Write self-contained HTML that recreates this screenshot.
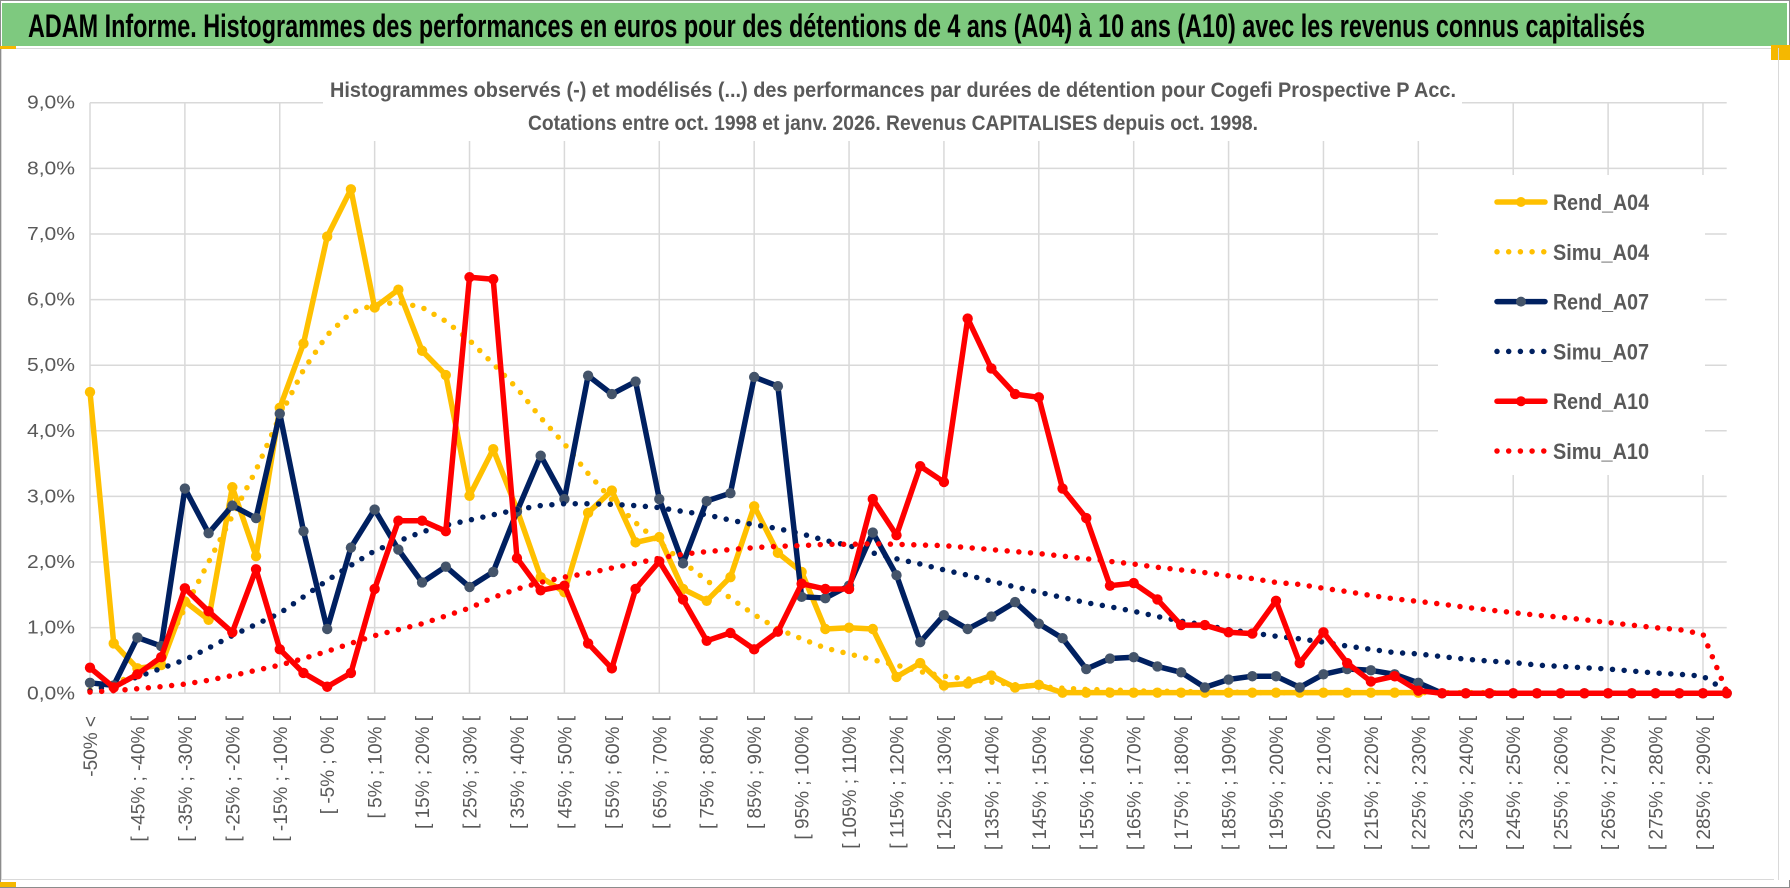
<!DOCTYPE html>
<html><head><meta charset="utf-8"><style>
html,body{margin:0;padding:0;background:#fff;}
svg{display:block;font-family:"Liberation Sans",sans-serif;}
</style></head><body>
<svg id="chart" width="1790" height="888" viewBox="0 0 1790 888">
  <rect x="0.5" y="0.5" width="1789" height="887" fill="#fff" stroke="#8c8c8c"/>
  <rect x="2" y="3" width="1785" height="43" fill="#7ec97f"/>
  <text x="28" y="37" font-size="32" font-weight="bold" fill="#000" textLength="1617" lengthAdjust="spacingAndGlyphs">ADAM Informe. Histogrammes des performances en euros pour des détentions de 4 ans (A04) à 10 ans (A10) avec les revenus connus capitalisés</text>
  <rect x="1.5" y="48.5" width="1776" height="831" fill="#fff" stroke="#d9d9d9"/>
  <rect x="0" y="46" width="16" height="3" fill="#f5b800"/>
  <rect x="0" y="882" width="16" height="5" fill="#f5b800"/>
  <rect x="1771" y="45" width="19" height="15" fill="#f5b800"/>
  <rect x="1774" y="60" width="16" height="820" fill="#fff"/>
  <line x1="1778.5" y1="48" x2="1778.5" y2="880" stroke="#d9d9d9"/>
  <g id="grid"></g>
  <rect x="323" y="60" width="1139" height="81" fill="#fff"/>
  <text x="893" y="97" font-size="21" font-weight="bold" fill="#595959" text-anchor="middle" textLength="1126" lengthAdjust="spacingAndGlyphs">Histogrammes observés (-) et modélisés (...) des performances par durées de détention pour Cogefi Prospective P Acc.</text>
  <text x="893" y="130" font-size="21" font-weight="bold" fill="#595959" text-anchor="middle" textLength="730" lengthAdjust="spacingAndGlyphs">Cotations entre oct. 1998 et janv. 2026. Revenus CAPITALISES depuis oct. 1998.</text>
  <rect x="1438" y="175" width="267" height="300" fill="#fff"/>
  <g id="yticks"></g>
  <g id="xticks"></g>
  <g id="series"></g>
  <g id="legend"></g>
</svg>
<script>
const yTicks = [0,1,2,3,4,5,6,7,8,9];
const yTickLabels = ["0,0%","1,0%","2,0%","3,0%","4,0%","5,0%","6,0%","7,0%","8,0%","9,0%"];
const seriesNames = ["Rend_A04","Simu_A04","Rend_A07","Simu_A07","Rend_A10","Simu_A10"];
const rendA04 = [4.59,0.76,0.38,0.43,1.4,1.12,3.14,2.09,4.35,5.33,
 6.96,7.68,5.88,6.15,5.22,4.85,3.01,3.72,2.8,1.77,
 1.54,2.75,3.09,2.3,2.38,1.59,1.41,1.77,2.85,2.14,
 1.85,0.98,1.0,0.98,0.25,0.46,0.12,0.15,0.27,0.09,
 0.13,0.01,0.01,0.01,0.01,0.01,0.01,0.01,0.01,0.01,
 0.01,0.01,0.01,0.01,0.01,0.01,0.01];
const simuA04 = [0.05,0.15,0.3,0.55,1.3,2.0,2.7,3.4,4.22,4.93,
 5.46,5.8,5.92,5.96,5.88,5.67,5.38,5.02,4.65,4.2,
 3.8,3.35,2.95,2.6,2.3,2.0,1.72,1.45,1.2,0.98,
 0.83,0.69,0.6,0.51,0.43,0.33,0.26,0.22,0.17,0.13,
 0.1,0.08,0.06,0.05,0.04,0.03,0.03,0.02,0.02,0.01,
 0.01,0.01,0.01,0.01,0.01,0.01,0.01,0.01,0.01,0.01,
 0,0,0,0,0,0,0,0,0,0];
const rendA07 = [0.16,0.12,0.85,0.72,3.12,2.44,2.86,2.67,4.26,2.47,
 0.98,2.22,2.8,2.19,1.69,1.93,1.62,1.85,2.77,3.62,
 2.96,4.84,4.56,4.75,2.96,1.98,2.93,3.05,4.82,4.68,
 1.47,1.45,1.64,2.45,1.8,0.78,1.19,0.98,1.17,1.39,
 1.06,0.84,0.37,0.53,0.55,0.41,0.32,0.09,0.21,0.26,
 0.26,0.09,0.29,0.37,0.35,0.29,0.16,0,0,0,
 0,0,0,0,0,0,0,0,0,0];
const simuA07 = [0.04,0.12,0.25,0.38,0.51,0.69,0.88,1.05,1.22,1.47,
 1.72,1.95,2.17,2.32,2.46,2.56,2.64,2.72,2.8,2.86,
 2.89,2.89,2.88,2.86,2.83,2.77,2.72,2.64,2.57,2.51,
 2.43,2.33,2.25,2.14,2.05,1.97,1.88,1.8,1.71,1.62,
 1.54,1.46,1.38,1.32,1.25,1.17,1.1,1.04,0.97,0.92,
 0.87,0.83,0.78,0.72,0.67,0.62,0.6,0.56,0.52,0.49,
 0.47,0.43,0.41,0.39,0.37,0.34,0.31,0.29,0.26,0.03];
const rendA10 = [0.39,0.09,0.29,0.55,1.6,1.25,0.93,1.89,0.67,0.31,
 0.1,0.31,1.59,2.63,2.63,2.47,6.34,6.31,2.06,1.57,
 1.64,0.76,0.38,1.59,2.01,1.43,0.8,0.92,0.67,0.94,
 1.67,1.59,1.59,2.96,2.41,3.46,3.22,5.71,4.95,4.56,
 4.51,3.12,2.67,1.64,1.68,1.43,1.04,1.04,0.93,0.91,
 1.41,0.46,0.93,0.46,0.18,0.26,0.04,0,0,0,
 0,0,0,0,0,0,0,0,0,0];
const simuA10 = [0.02,0.04,0.07,0.1,0.14,0.2,0.27,0.35,0.43,0.53,
 0.64,0.76,0.88,0.97,1.06,1.18,1.3,1.46,1.59,1.69,
 1.77,1.83,1.91,1.98,2.06,2.12,2.16,2.19,2.22,2.24,
 2.25,2.27,2.27,2.28,2.27,2.26,2.25,2.22,2.19,2.16,
 2.13,2.09,2.05,2.01,1.97,1.92,1.88,1.84,1.79,1.75,
 1.69,1.66,1.6,1.55,1.49,1.44,1.4,1.36,1.31,1.27,
 1.23,1.19,1.16,1.12,1.08,1.04,1.0,0.97,0.9,0.03];
const categories = [];
categories.push("-50% <");
for (let k = 1; k < 70; k++) categories.push("[ " + (-55 + 5 * k) + "% ; " + (-50 + 5 * k) + "% [");

const NS = "http://www.w3.org/2000/svg";
const X0 = 90, X1 = 1726.7, Y0 = 693.3, YTOP = 102.7, YMAX = 9;
const N = categories.length;
function xPos(i) { return X0 + i * (X1 - X0) / (N - 1); }
function yPos(v) { return Y0 - v * (Y0 - YTOP) / YMAX; }
function mk(tag, attrs, parent) {
  const el = document.createElementNS(NS, tag);
  for (const k in attrs) el.setAttribute(k, attrs[k]);
  parent.appendChild(el);
  return el;
}
const grid = document.getElementById("grid");
yTicks.forEach(function (t) {
  const l = mk("line", {x1: X0, x2: X1, y1: yPos(t), y2: yPos(t), stroke: "#d9d9d9", "stroke-width": 1.5}, grid);
  
  
});
for (let i = 0; i < N; i += 4) {
  const l = mk("line", {x1: xPos(i), x2: xPos(i), y1: YTOP, y2: Y0, stroke: "#d9d9d9", "stroke-width": 1.5}, grid);
  
  
}
const yt = document.getElementById("yticks");
yTicks.forEach(function (t, i) {
  const tx = mk("text", {x: 75, y: yPos(t) + 6, "text-anchor": "end", "font-size": 18, fill: "#595959", textLength: 48, lengthAdjust: "spacingAndGlyphs"}, yt);
  tx.textContent = yTickLabels[i];
  
  
});
const xt = document.getElementById("xticks");
for (let i = 0; i < N; i += 2) {
  const x = xPos(i) + 7;
  const tx = mk("text", {x: x, y: 716, transform: "rotate(-90 " + x + " 716)", "text-anchor": "end", "font-size": 19, fill: "#595959"}, xt);
  tx.textContent = categories[i];
  
  
}
const sg = document.getElementById("series");
function drawSeries(vals, color, dotted, markerColor, name) {
  const pts = vals.map(function (v, i) { return xPos(i).toFixed(1) + "," + yPos(v).toFixed(1); }).join(" ");
  const attrs = {points: pts, fill: "none", stroke: color, "stroke-width": dotted ? 5.5 : 5.5, "stroke-linejoin": "round", "stroke-linecap": "round"};
  if (dotted) attrs["stroke-dasharray"] = "0 11.7";
  const pl = mk("polyline", attrs, sg);
  
  
  if (!dotted) {
    vals.forEach(function (v, i) {
      const c = mk("circle", {cx: xPos(i), cy: yPos(v), r: 5.2, fill: markerColor}, sg);
      
      
    });
  }
}
drawSeries(rendA04, "#ffc000", false, "#ffc000", "rend-a04");
drawSeries(simuA04, "#ffc000", true, null, "simu-a04");
drawSeries(rendA07, "#002060", false, "#44546a", "rend-a07");
drawSeries(simuA07, "#002060", true, null, "simu-a07");
drawSeries(rendA10, "#ff0000", false, "#ff0000", "rend-a10");
drawSeries(simuA10, "#ff0000", true, null, "simu-a10");

const lg = document.getElementById("legend");
const legColors = ["#ffc000","#ffc000","#002060","#002060","#ff0000","#ff0000"];
const legMarker = ["#ffc000",null,"#44546a",null,"#ff0000",null];
seriesNames.forEach(function (nm, i) {
  const y = 202 + i * 49.8;
  const g = mk("g", {}, lg);
  
  
  const dotted = legMarker[i] === null;
  const la = {x1: 1497, x2: 1545, y1: y, y2: y, stroke: legColors[i], "stroke-width": 5.5, "stroke-linecap": "round"};
  if (dotted) la["stroke-dasharray"] = "0 11.7";
  mk("line", la, g);
  if (!dotted) mk("circle", {cx: 1521, cy: y, r: 5, fill: legMarker[i]}, g);
  const t = mk("text", {x: 1553, y: y + 8, "font-size": 22, "font-weight": "bold", fill: "#595959", textLength: 96, lengthAdjust: "spacingAndGlyphs"}, g);
  t.textContent = nm;
});
</script>
</body></html>
